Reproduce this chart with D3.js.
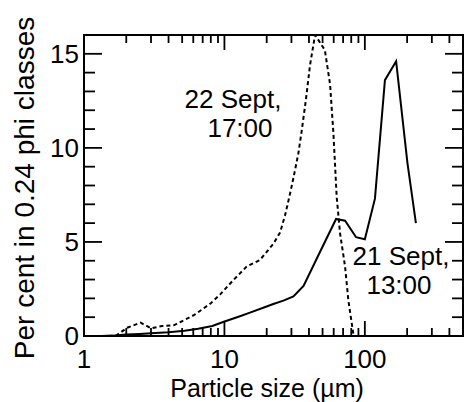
<!DOCTYPE html>
<html>
<head>
<meta charset="utf-8">
<script src="https://cdn.jsdelivr.net/npm/d3@7"></script>
<style>
  html, body { margin: 0; padding: 0; background: #fff; }
  svg { display: block; font-family: "Liberation Sans", Arial, sans-serif; }
</style>
</head>
<body>
<div id="chart"></div>
<script>
// 21 Sept, 13:00 (solid line)
const sizeSept21 = [1.34, 1.6, 2.0, 2.5, 3.0, 4.0, 5.2, 6.5, 8.2, 9.9, 12.9, 15.2, 18.9, 22.3, 26.3, 31, 36.6, 48, 62.4, 72.3, 86.6, 100, 118, 139, 167, 201, 231];
const pctSept21  = [0, 0.02, 0.08, 0.11, 0.14, 0.2, 0.28, 0.38, 0.53, 0.76, 1.05, 1.24, 1.5, 1.7, 1.88, 2.1, 2.66, 4.48, 6.22, 6.13, 5.25, 5.14, 7.3, 13.6, 14.6, 9.2, 6.0];

// 22 Sept, 17:00 (dashed line)
const sizeSept22 = [1.68, 2.03, 2.53, 3.0, 3.6, 4.4, 6.1, 8.0, 9.3, 11.6, 14.4, 17.9, 22.3, 24.9, 27, 29, 31, 33.6, 35.5, 38.1, 40.7, 44.2, 51.9, 56.5, 59.7, 63, 66.6, 72.3, 76.3, 82.8];
const pctSept22  = [0, 0.44, 0.71, 0.41, 0.53, 0.58, 1.12, 1.74, 2.2, 2.98, 3.69, 4.04, 4.9, 5.5, 6.4, 7.4, 8.4, 9.7, 10.9, 12.6, 14.4, 16.0, 15.2, 13.4, 10.8, 7.4, 5.46, 3.69, 1.9, 0.1];

const xTickLabels = [1, 10, 100];
const yTickLabels = [0, 5, 10, 15];

const width = 464, height = 402;

const x = d3.scaleLog().domain([1, 500]).range([84, 463]);
const y = d3.scaleLinear().domain([0, 16]).range([336, 35]);

const svg = d3.select("#chart")
    .append("svg")
    .attr("width", width)
    .attr("height", height);

svg.append("clipPath")
    .attr("id", "plot-clip")
  .append("rect")
    .attr("x", x(1))
    .attr("y", y(16))
    .attr("width", x(500) - x(1))
    .attr("height", y(0) - y(16));

// ticks, all pointing into the plot
const xTicks = x.ticks().filter(d => d > 1 && d < 500);
const isDecade = d => Math.abs(Math.log10(d) - Math.round(Math.log10(d))) < 1e-9;
const yTicks = d3.range(1, 16);

const ticks = svg.append("g")
    .attr("stroke", "#000")
    .attr("stroke-width", 1.8);

ticks.selectAll(".xb")
    .data(xTicks)
    .join("line")
    .attr("class", "xb")
    .attr("x1", d => x(d)).attr("x2", d => x(d))
    .attr("y1", y(0)).attr("y2", d => y(0) - (isDecade(d) ? 15 : 8));

ticks.selectAll(".xt")
    .data(xTicks)
    .join("line")
    .attr("class", "xt")
    .attr("x1", d => x(d)).attr("x2", d => x(d))
    .attr("y1", y(16)).attr("y2", d => y(16) + (isDecade(d) ? 15 : 8));

ticks.selectAll(".yl")
    .data(yTicks)
    .join("line")
    .attr("class", "yl")
    .attr("x1", x(1)).attr("x2", d => x(1) + (d % 5 === 0 ? 18 : 11))
    .attr("y1", d => y(d)).attr("y2", d => y(d));

ticks.selectAll(".yr")
    .data(yTicks)
    .join("line")
    .attr("class", "yr")
    .attr("x1", x(500)).attr("x2", d => x(500) - (d % 5 === 0 ? 18 : 11))
    .attr("y1", d => y(d)).attr("y2", d => y(d));

// curves
const line = d3.line()
    .x(d => x(d[0]))
    .y(d => y(d[1]));

const plot = svg.append("g").attr("clip-path", "url(#plot-clip)");

plot.append("path")
    .datum(d3.zip(sizeSept22, pctSept22))
    .attr("fill", "none")
    .attr("stroke", "#000")
    .attr("stroke-width", 2)
    .attr("stroke-dasharray", "4,3")
    .attr("d", line);

plot.append("path")
    .datum(d3.zip(sizeSept21, pctSept21))
    .attr("fill", "none")
    .attr("stroke", "#000")
    .attr("stroke-width", 2)
    .attr("d", line);

// frame
svg.append("rect")
    .attr("x", x(1))
    .attr("y", y(16))
    .attr("width", x(500) - x(1))
    .attr("height", y(0) - y(16))
    .attr("fill", "none")
    .attr("stroke", "#000")
    .attr("stroke-width", 2);

// tick labels
svg.selectAll(".xlab")
    .data(xTickLabels)
    .join("text")
    .attr("class", "xlab")
    .attr("x", d => x(d))
    .attr("y", 368)
    .attr("text-anchor", "middle")
    .attr("font-size", 26)
    .text(d => d);

svg.selectAll(".ylab")
    .data(yTickLabels)
    .join("text")
    .attr("class", "ylab")
    .attr("x", 79)
    .attr("y", d => y(d) + 9)
    .attr("text-anchor", "end")
    .attr("font-size", 26)
    .text(d => d);

// axis titles
svg.append("text")
    .attr("x", 267)
    .attr("y", 397)
    .attr("text-anchor", "middle")
    .attr("font-size", 25)
    .text("Particle size (\u00b5m)");

svg.append("text")
    .attr("transform", "translate(34,188) rotate(-90)")
    .attr("text-anchor", "middle")
    .attr("font-size", 28)
    .text("Per cent in 0.24 phi classes");

// annotations
const notes = svg.append("g")
    .attr("font-size", 26)
    .attr("text-anchor", "middle");

notes.append("text").attr("x", 233).attr("y", 108).text("22 Sept,");
notes.append("text").attr("x", 240).attr("y", 137).text("17:00");
notes.append("text").attr("x", 401).attr("y", 265).text("21 Sept,");
notes.append("text").attr("x", 399).attr("y", 294).text("13:00");
</script>
</body>
</html>
